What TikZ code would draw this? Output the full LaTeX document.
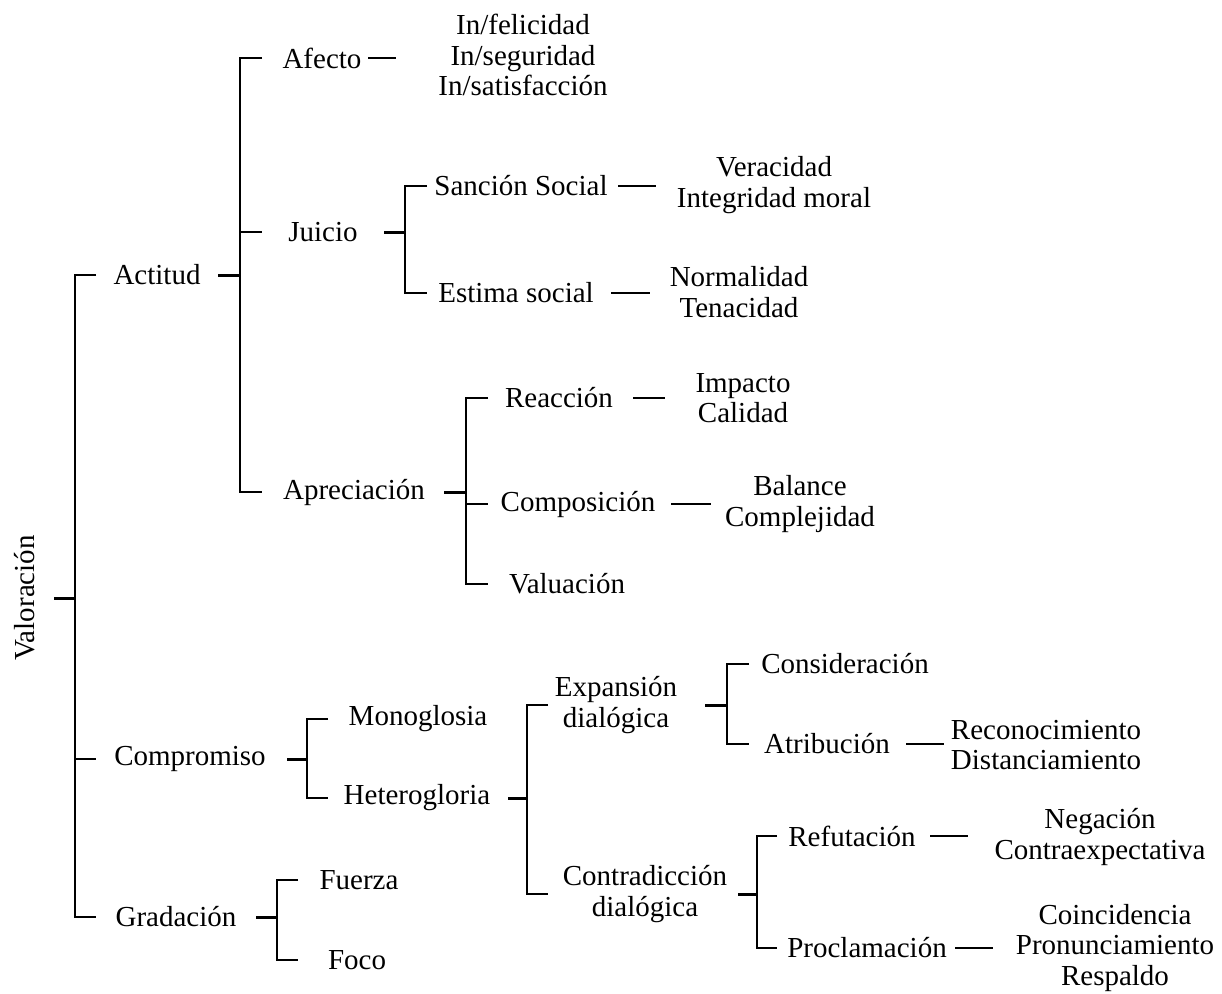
\documentclass[tikz,border=0pt]{standalone}
\usepackage{fontspec}
\setmainfont{Liberation Serif}
\tikzset{
  lbl/.style={inner sep=0pt, outer sep=0pt, align=center, font=\fontsize{29}{30.5}\selectfont},
  conn/.style={line width=2pt, line cap=butt, line join=miter},
  ptick/.style={line width=3pt},
}
\begin{document}
\begin{tikzpicture}[x=1pt,y=-1pt]
\useasboundingbox (0,0) rectangle (1222,993);
% ---------- nodes ----------
\node[lbl, rotate=90] (valor) at (25,598) {Valoración};
\node[lbl] (actitud) at (157,275) {Actitud};
\node[lbl] (comp) at (190,759) {Compromiso};
\node[lbl] (grad) at (176,917) {Gradación};
\node[lbl] (afecto) at (322,58) {Afecto};
\node[lbl] (juicio) at (323,232) {Juicio};
\node[lbl] (apre) at (354,492) {Apreciación};
\node[lbl] (afl) at (523,55) {In/felicidad\\In/seguridad\\In/satisfacción};
\node[lbl] (sancion) at (521,186) {Sanción Social};
\node[lbl] (estima) at (516,293) {Estima social};
\node[lbl] (sanl) at (774,185) {Veracidad\\Integridad moral};
\node[lbl] (estl) at (739,292) {Normalidad\\Tenacidad};
\node[lbl] (reac) at (559,398) {Reacción};
\node[lbl] (compo) at (578,504) {Composición};
\node[lbl] (valu) at (567,584) {Valuación};
\node[lbl] (reacl) at (743,398) {Impacto\\Calidad};
\node[lbl] (compol) at (800,504) {Balance\\Complejidad};
\node[lbl] (mono) at (418,719) {Monoglosia};
\node[lbl] (hetero) at (417,798) {Heterogloria};
\node[lbl] (expa) at (616,705) {Expansión\\dialógica};
\node[lbl] (contra) at (645,894) {Contradicción\\dialógica};
\node[lbl] (consi) at (845,664) {Consideración};
\node[lbl] (atri) at (827,744) {Atribución};
\node[lbl] (atril) at (1046,745) {Reconocimiento\\Distanciamiento};
\node[lbl] (refu) at (852,836) {Refutación};
\node[lbl] (refl) at (1100,837) {Negación\\Contraexpectativa};
\node[lbl] (procl) at (867,948) {Proclamación};
\node[lbl] (procll) at (1115,948) {Coincidencia\\Pronunciamiento\\Respaldo};
\node[lbl] (fuerza) at (359,880) {Fuerza};
\node[lbl] (foco) at (357,960) {Foco};
% ---------- spines ----------
\coordinate (s0) at (75,0);
\coordinate (s1) at (240,0);
\coordinate (s2) at (405,0);
\coordinate (s3) at (466,0);
\coordinate (s4) at (307,0);
\coordinate (s5) at (527,0);
\coordinate (s6) at (727,0);
\coordinate (s7) at (757,0);
\coordinate (s8) at (277,0);
% Valoracion
\draw[conn] (s0 |- actitud) ++(21,0) -- (s0 |- actitud) -- (s0 |- grad) -- ++(21,0);
\draw[conn] (s0 |- comp) -- ++(21,0);
\draw[conn,ptick] (s0 |- valor) -- ++(-21,0);
% Actitud
\draw[conn] (s1 |- afecto) ++(22,0) -- (s1 |- afecto) -- (s1 |- apre) -- ++(22,0);
\draw[conn] (s1 |- juicio) -- ++(22,0);
\draw[conn,ptick] (s1 |- actitud) -- ++(-22,0);
% Juicio
\draw[conn] (s2 |- sancion) ++(22,0) -- (s2 |- sancion) -- (s2 |- estima) -- ++(22,0);
\draw[conn,ptick] (s2 |- juicio) -- ++(-21,0);
% Apreciacion
\draw[conn] (s3 |- reac) ++(22,0) -- (s3 |- reac) -- (s3 |- valu) -- ++(22,0);
\draw[conn] (s3 |- compo) -- ++(22,0);
\draw[conn,ptick] (s3 |- apre) -- ++(-22,0);
% Compromiso
\draw[conn] (s4 |- mono) ++(21,0) -- (s4 |- mono) -- (s4 |- hetero) -- ++(21,0);
\draw[conn,ptick] (s4 |- comp) -- ++(-20,0);
% Heterogloria
\draw[conn] (s5 |- expa) ++(21,0) -- (s5 |- expa) -- (s5 |- contra) -- ++(21,0);
\draw[conn,ptick] (s5 |- hetero) -- ++(-19,0);
% Expansion
\draw[conn] (s6 |- consi) ++(22,0) -- (s6 |- consi) -- (s6 |- atri) -- ++(22,0);
\draw[conn,ptick] (s6 |- expa) -- ++(-22,0);
% Contradiccion
\draw[conn] (s7 |- refu) ++(20,0) -- (s7 |- refu) -- (s7 |- procl) -- ++(20,0);
\draw[conn,ptick] (s7 |- contra) -- ++(-19,0);
% Gradacion
\draw[conn] (s8 |- fuerza) ++(21,0) -- (s8 |- fuerza) -- (s8 |- foco) -- ++(21,0);
\draw[conn,ptick] (s8 |- grad) -- ++(-21,0);
% ---------- dashes to leaf lists ----------
\draw[conn] (368,0 |- afecto) -- (396,0 |- afecto);
\draw[conn] (618,0 |- sancion) -- (656,0 |- sancion);
\draw[conn] (611,0 |- estima) -- (650,0 |- estima);
\draw[conn] (633,0 |- reac) -- (665,0 |- reac);
\draw[conn] (671,0 |- compo) -- (711,0 |- compo);
\draw[conn] (906,0 |- atri) -- (944,0 |- atri);
\draw[conn] (930,0 |- refu) -- (968,0 |- refu);
\draw[conn] (955,0 |- procl) -- (993,0 |- procl);
\end{tikzpicture}
\end{document}
